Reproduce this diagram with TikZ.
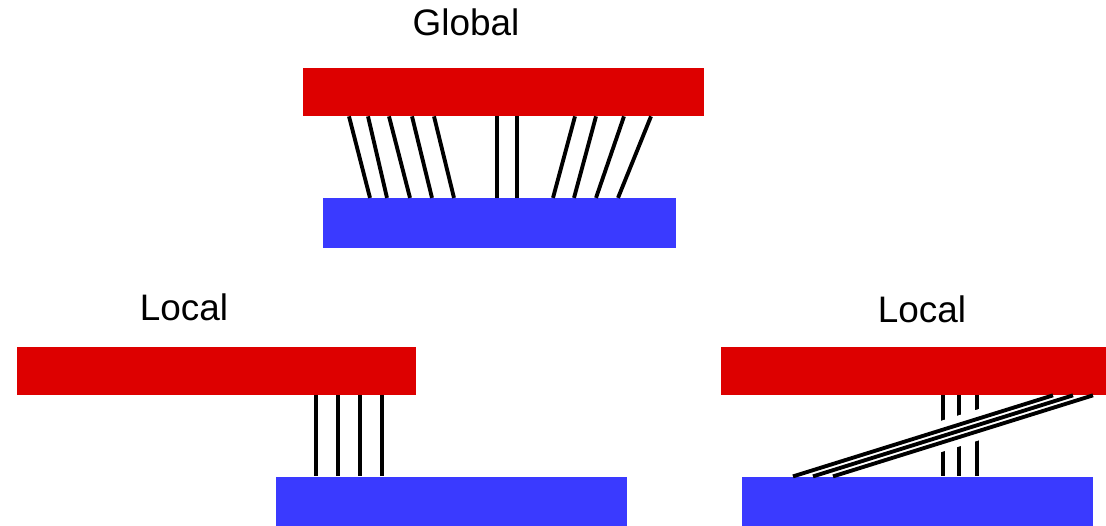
\documentclass[tikz,border=0pt]{standalone}
\usepackage{fontspec}
\setmainfont{Liberation Sans}
\definecolor{barred}{RGB}{221,0,0}
\definecolor{barblue}{RGB}{58,58,255}
\tikzset{
  redbar/.style={fill=barred, inner sep=0pt, minimum height=0.96cm},
  bluebar/.style={fill=barblue, inner sep=0pt, minimum height=0.99cm},
  wire/.style={black, line width=2.2pt},
  gapband/.style={white, line width=17pt, shorten <=1.8cm, shorten >=1.4cm},
  title/.style={anchor=base, font=\fontsize{21}{25}\selectfont}
}
\begin{document}
\begin{tikzpicture}[x=0.02cm,y=-0.02cm]
\useasboundingbox (0,0) rectangle (1106,526);

\node[title] (tglobal) at (466,36) {Global};
\node[redbar, minimum width=8.02cm] (gred) at (503.5,92) {};
\node[bluebar, minimum width=7.06cm] (gblue) at (499.5,223) {};
\foreach \a/\b in {349/370,368/387,389/410,412/432,434/454,497/497,517/517,575/553,596/574,624/596,651/618}{
	\draw[wire] (\a,0 |- gred.south) -- (\b,0 |- gblue.north);
	}

\node[title] (tlocall) at (184,321) {Local};
\node[redbar, minimum width=7.98cm] (lred) at (216.5,371) {};
\node[bluebar, minimum width=7.02cm] (lblue) at (451.5,501.5) {};
\foreach \a in {316,338,360,382}{
	\draw[wire] (\a,0 |- lred.south) -- (\a,0 |- lblue.north);
	}

\node[title] (tlocalr) at (922,323) {Local};
\node[redbar, minimum width=7.7cm] (rred) at (913.5,371) {};
\node[bluebar, minimum width=7.02cm] (rblue) at (917.5,501.5) {};
\foreach \a in {943,959,977}{
	\draw[wire] (\a,0 |- rred.south) -- (\a,0 |- rblue.north);
	}
\draw[gapband] (813,0 |- rblue.north) -- (1073,0 |- rred.south);
\foreach \a/\b in {793/1053,813/1073,833/1093}{
	\draw[wire] (\a,0 |- rblue.north) -- (\b,0 |- rred.south);
	}
\end{tikzpicture}
\end{document}
